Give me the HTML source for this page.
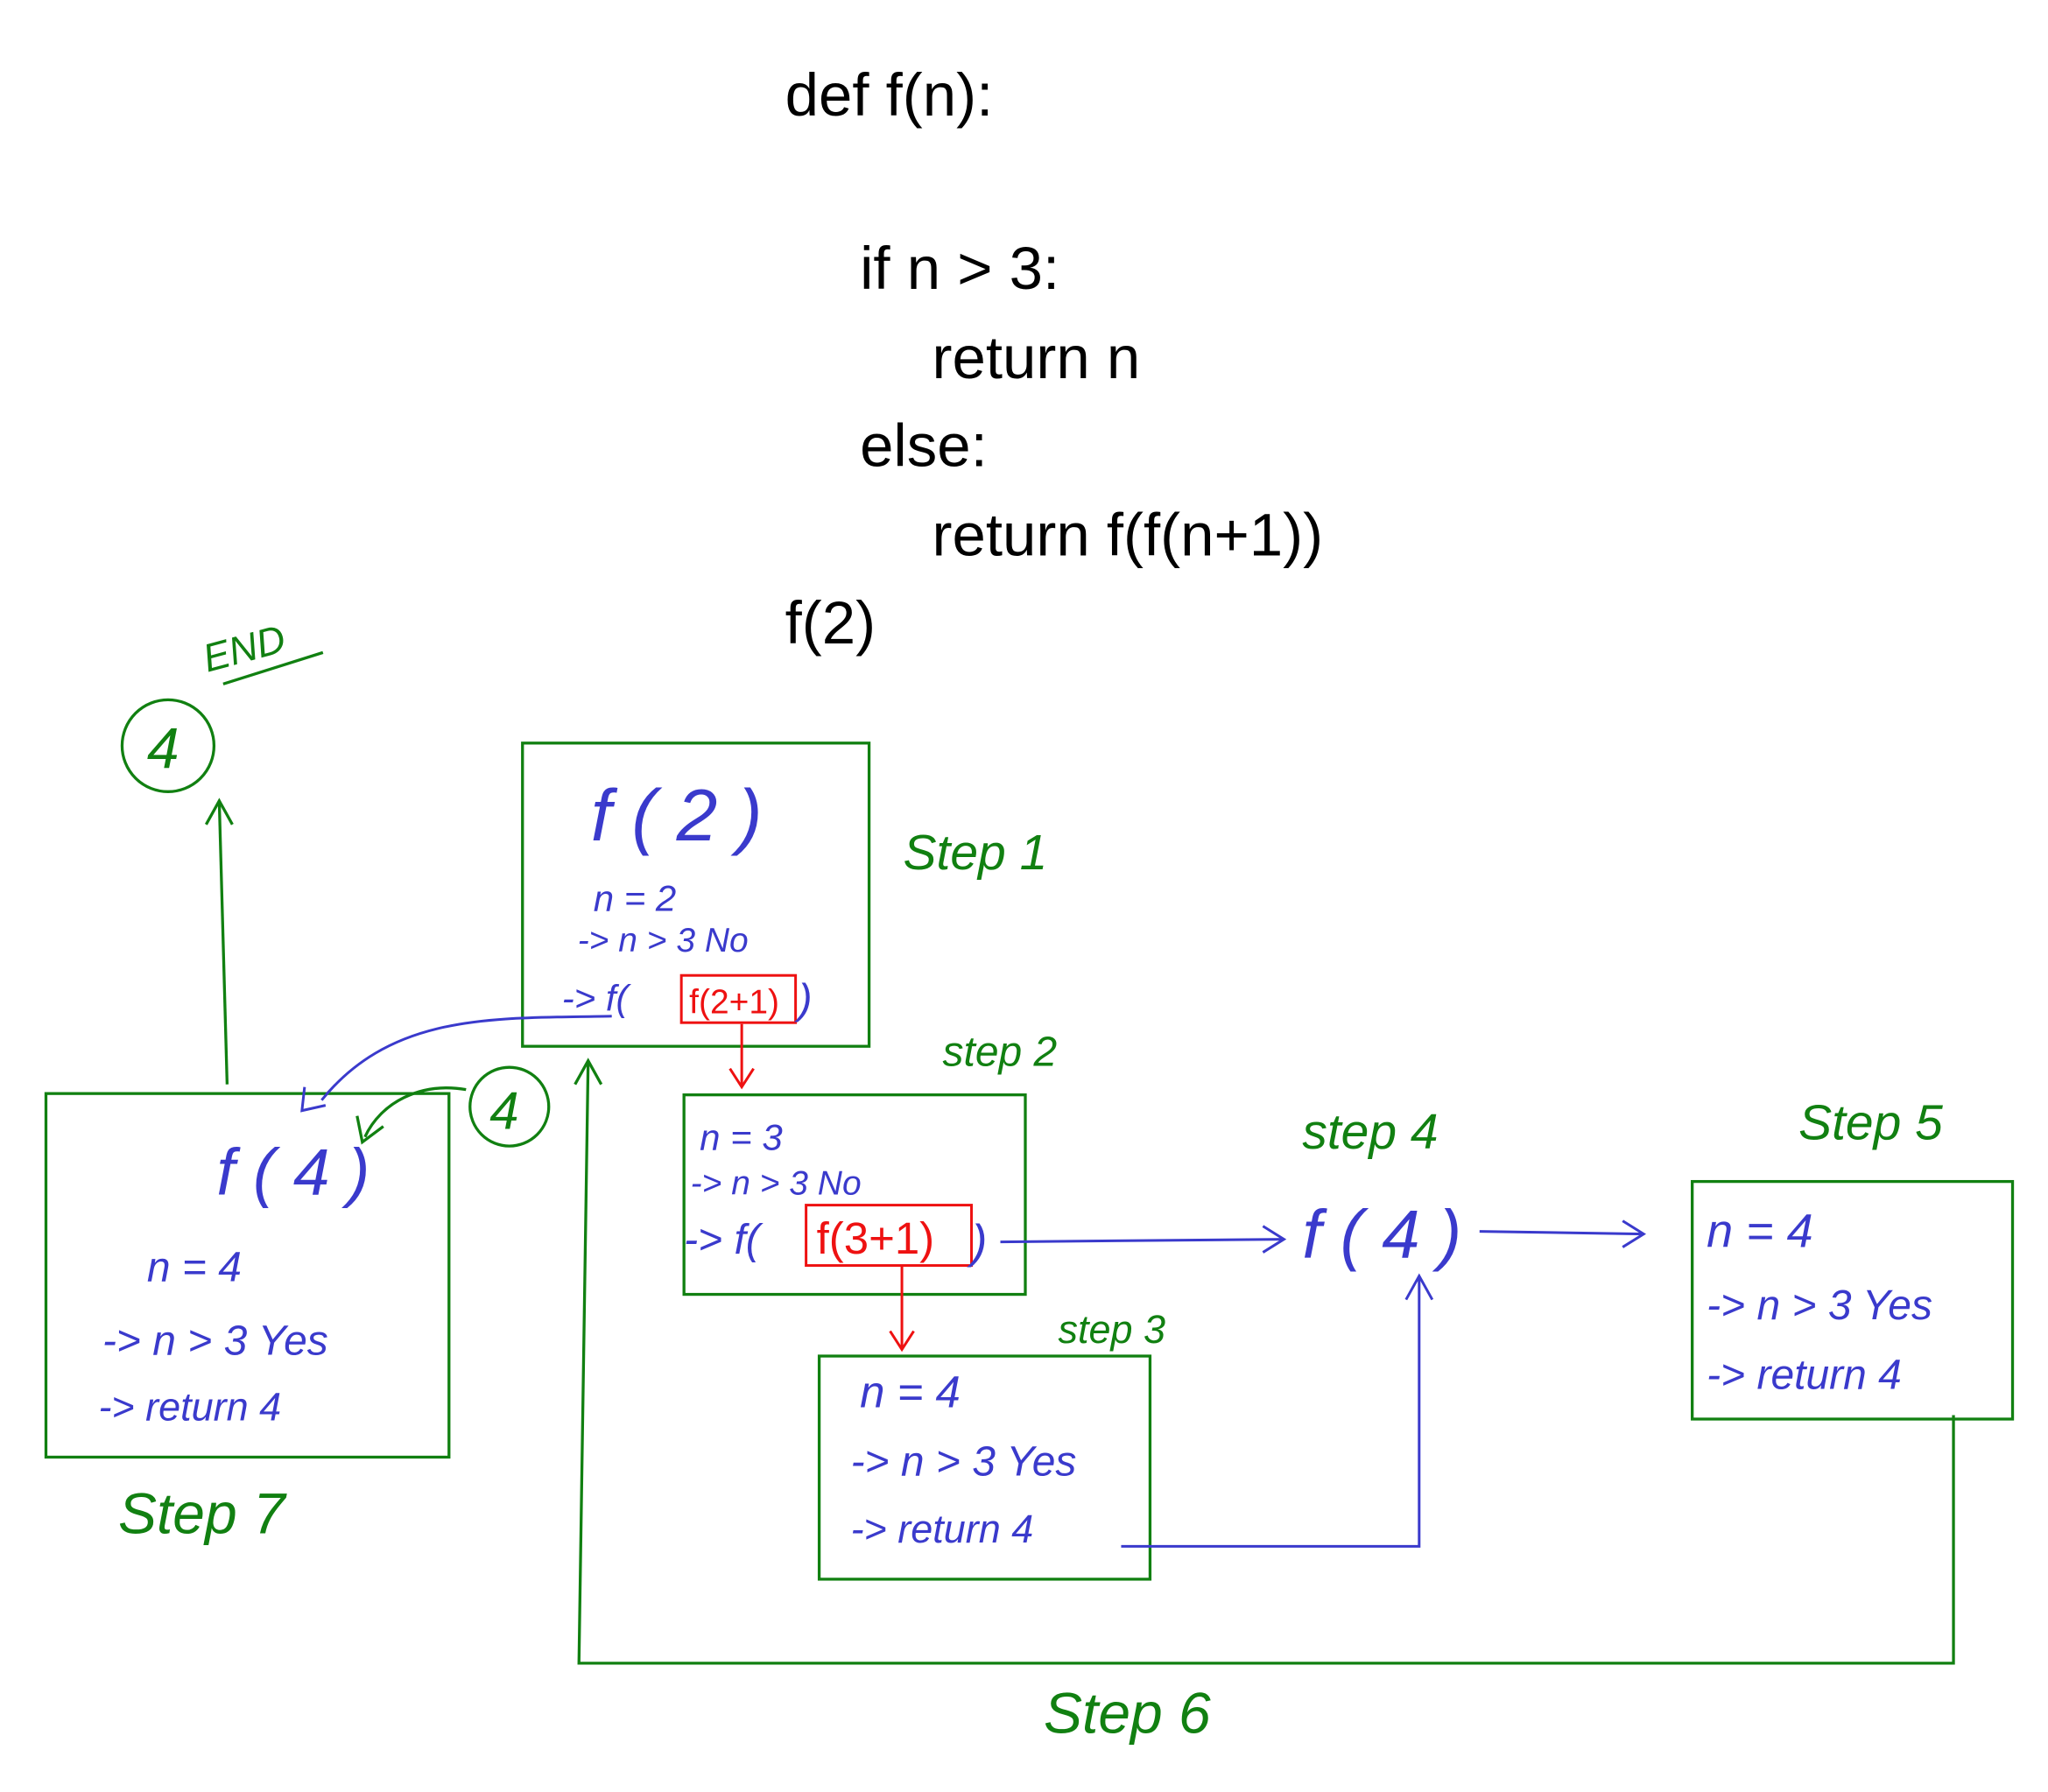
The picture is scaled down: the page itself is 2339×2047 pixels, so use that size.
<!DOCTYPE html>
<html><head><meta charset="utf-8"><style>
html,body{margin:0;padding:0;background:#fff}
svg{display:block}
.code{font-family:"Liberation Sans",sans-serif;font-size:46px;fill:#000}
.g{stroke:#118011;fill:none;stroke-width:2.2}
.b{stroke:#3a3acc;fill:none;stroke-width:2}
.r{stroke:#ee1111;fill:none;stroke-width:2}
.gt{font-family:"Liberation Sans",sans-serif;fill:#118011;font-style:italic}
.bt{font-family:"Liberation Sans",sans-serif;fill:#3a3acc;font-style:italic}
.rt{font-family:"Liberation Sans",sans-serif;fill:#ee1111}
</style></head><body>
<svg width="2339" height="2047" viewBox="0 0 1560 1365" xmlns="http://www.w3.org/2000/svg">
<g>
<text class="code" x="598" y="88">def f(n):</text>
<text class="code" x="655" y="220">if n &gt; 3:</text>
<text class="code" x="710" y="288">return n</text>
<text class="code" x="655" y="355">else:</text>
<text class="code" x="710" y="423">return f(f(n+1))</text>
<text class="code" x="598" y="490">f(2)</text>
</g>
<g>
<text class="gt" x="158" y="512" font-size="30" transform="rotate(-15 158 512)">END</text>
<line class="g" x1="170" y1="521" x2="246" y2="497"/>
<circle class="g" cx="128" cy="568" r="35"/>
<text class="gt" x="112" y="585" font-size="44">4</text>
<line class="g" x1="173" y1="826" x2="167" y2="610"/>
<polyline class="g" points="157,628 167,610 177,628"/>
</g>
<g>
<rect class="g" x="398" y="566" width="264" height="231"/>
<text class="bt" x="450" y="640" font-size="56">f ( 2 )</text>
<text class="bt" x="452" y="694" font-size="28">n = 2</text>
<text class="bt" x="440" y="725" font-size="26">-&gt; n &gt; 3   No</text>
<text class="bt" x="428" y="770" font-size="28">-&gt; f(</text>
<rect class="r" x="519" y="743" width="87" height="36"/>
<text class="rt" x="525" y="772" font-size="26">f(2+1)</text>
<text class="bt" x="608" y="772" font-size="32">)</text>
<text class="gt" x="688" y="662" font-size="38">Step 1</text>
</g>
<line class="r" x1="565" y1="780" x2="565" y2="828"/>
<polyline class="r" points="556,814 565,828 574,814"/>
<g>
<rect class="g" x="521" y="834" width="260" height="152"/>
<text class="bt" x="533" y="876" font-size="28">n = 3</text>
<text class="bt" x="526" y="910" font-size="26">-&gt; n &gt; 3 No</text>
<text class="bt" x="521" y="955" font-size="32">-&gt; f(</text>
<rect class="r" x="614" y="918" width="126" height="46"/>
<text class="rt" x="622" y="955" font-size="34">f(3+1)</text>
<text class="bt" x="740" y="958" font-size="36">)</text>
<text class="gt" x="718" y="812" font-size="32">step 2</text>
</g>
<line class="r" x1="687" y1="964" x2="687" y2="1028"/>
<polyline class="r" points="678,1014 687,1028 696,1014"/>
<g>
<rect class="g" x="624" y="1033" width="252" height="170"/>
<text class="bt" x="655" y="1072" font-size="34">n = 4</text>
<text class="bt" x="648" y="1124" font-size="32">-&gt; n &gt; 3  Yes</text>
<text class="bt" x="648" y="1175" font-size="30">-&gt;  return  4</text>
<text class="gt" x="806" y="1023" font-size="30">step 3</text>
</g>
<polyline class="b" points="854,1178 1081,1178 1081,972"/>
<polyline class="b" points="1071,990 1081,972 1091,990"/>
<line class="b" x1="762" y1="946" x2="978" y2="944"/>
<polyline class="b" points="962,934 978,944 962,954"/>
<text class="bt" x="992" y="958" font-size="52">f ( 4 )</text>
<text class="gt" x="992" y="875" font-size="38">step 4</text>
<line class="b" x1="1127" y1="938" x2="1252" y2="940"/>
<polyline class="b" points="1236,930 1252,940 1236,950"/>
<g>
<rect class="g" x="1289" y="900" width="244" height="181"/>
<text class="bt" x="1300" y="950" font-size="36">n = 4</text>
<text class="bt" x="1300" y="1005" font-size="32">-&gt; n &gt; 3  Yes</text>
<text class="bt" x="1300" y="1058" font-size="32">-&gt; return 4</text>
<text class="gt" x="1370" y="868" font-size="38">Step 5</text>
</g>
<polyline class="g" points="1488,1078 1488,1267 441,1267 448,808"/>
<polyline class="g" points="438,826 448,808 458,826"/>
<text class="gt" x="795" y="1320" font-size="44">Step 6</text>
<g>
<rect class="g" x="35" y="833" width="307" height="277"/>
<text class="bt" x="165" y="910" font-size="50">f (  4  )</text>
<text class="bt" x="112" y="976" font-size="32">n = 4</text>
<text class="bt" x="78" y="1032" font-size="32">-&gt; n &gt; 3 Yes</text>
<text class="bt" x="75" y="1082" font-size="30">-&gt; return 4</text>
<text class="gt" x="90" y="1168" font-size="44">Step 7</text>
</g>
<path class="b" d="M466,774 C380,776 300,770 245,838"/>
<polyline class="b" points="232,828 230,846 248,842"/>
<circle class="g" cx="388" cy="843" r="30"/>
<text class="gt" x="373" y="860" font-size="40">4</text>
<path class="g" d="M355,830 C320,824 290,840 278,866"/>
<polyline class="g" points="272,850 276,870 292,858"/>
</svg>
</body></html>
